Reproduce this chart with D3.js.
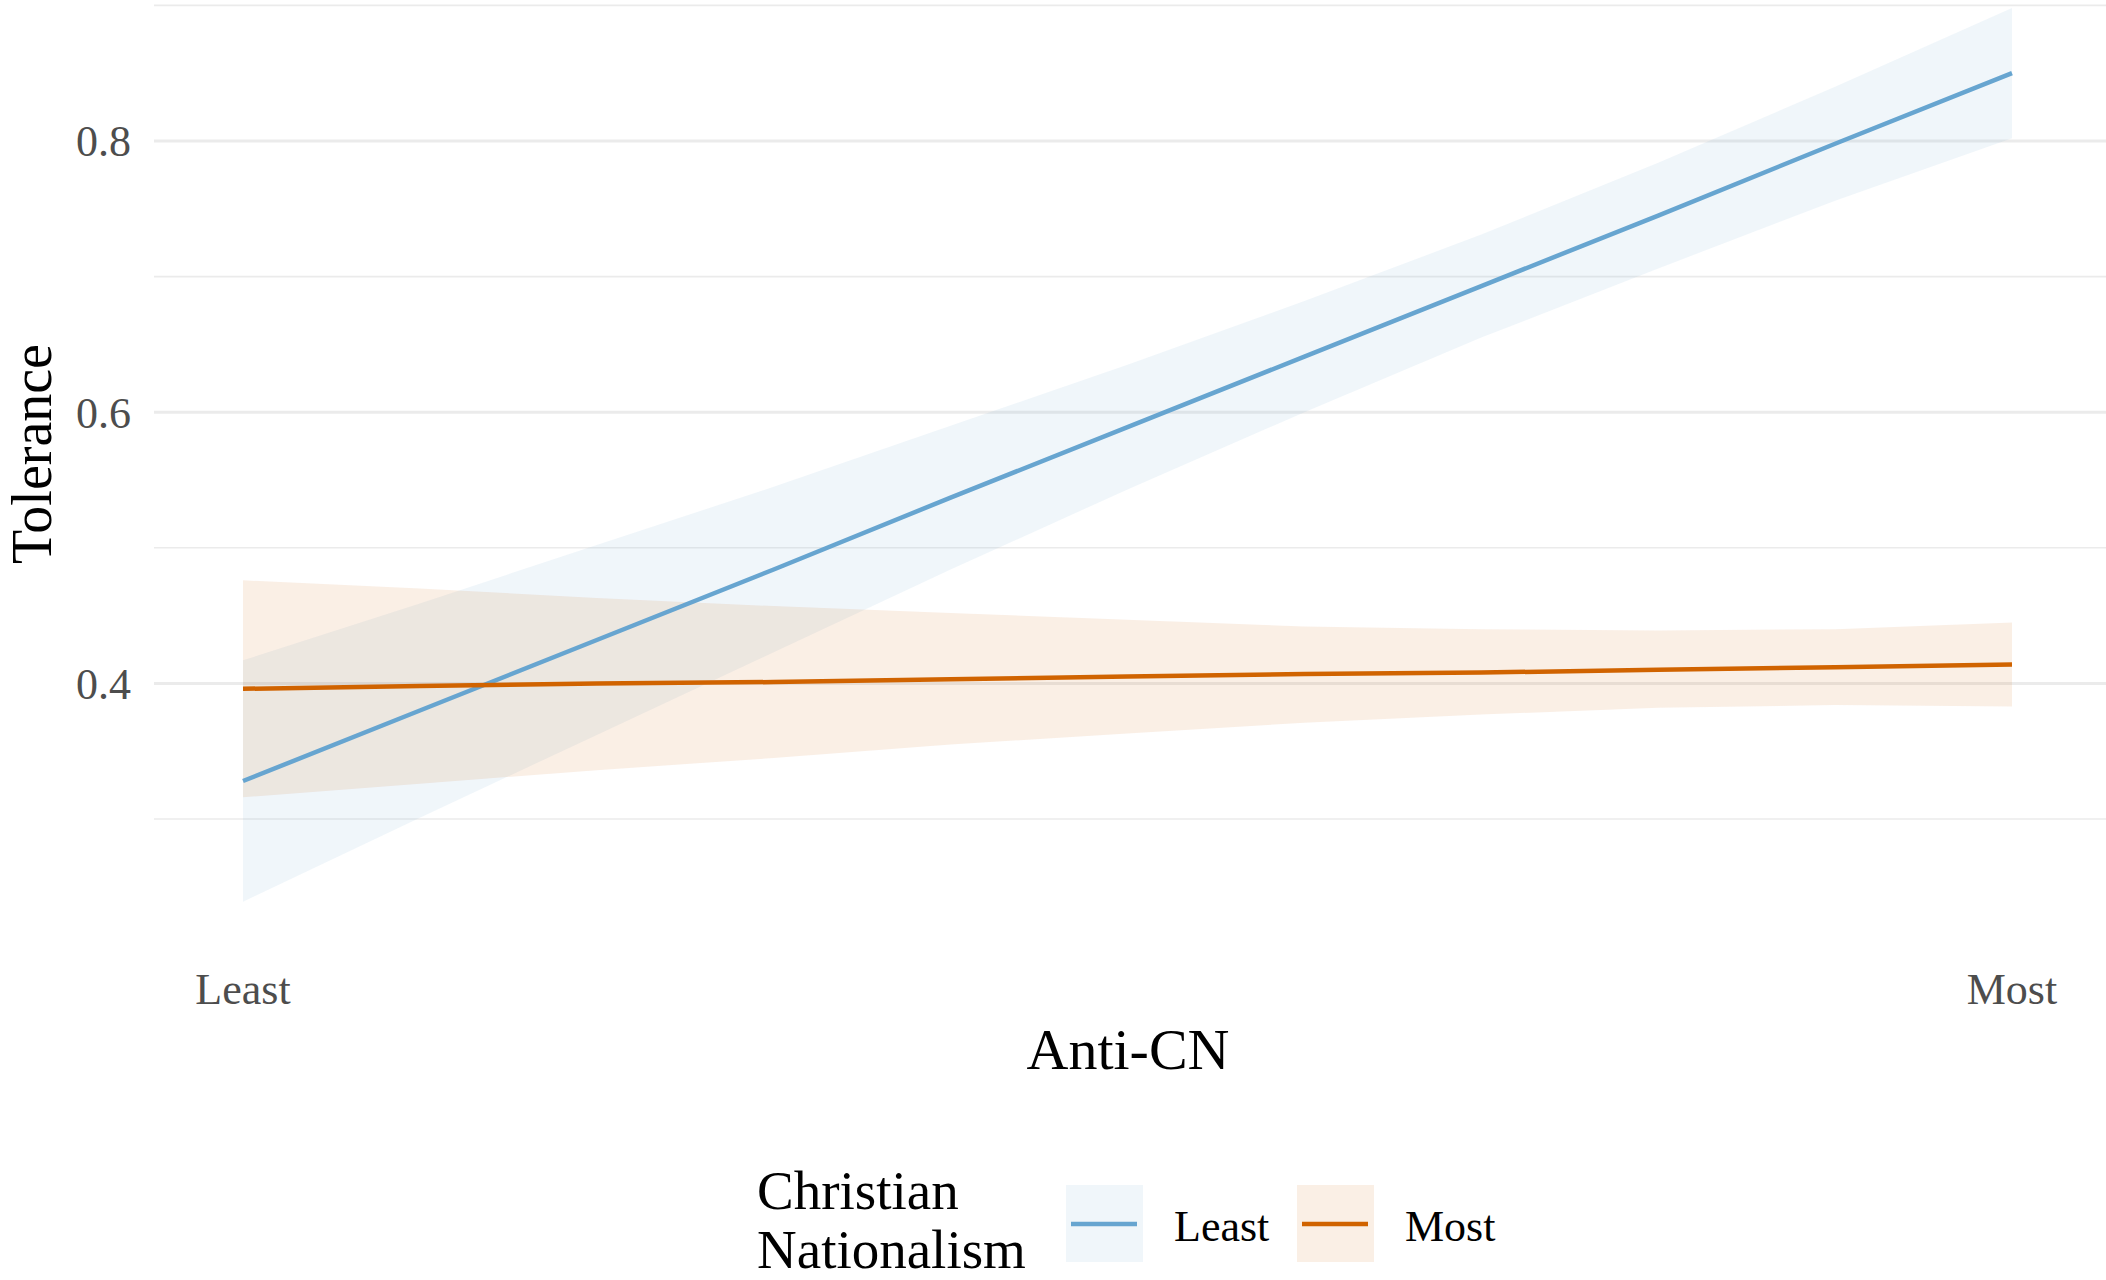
<!DOCTYPE html>
<html>
<head>
<meta charset="utf-8">
<script src="https://cdn.jsdelivr.net/npm/d3@7"></script>
<style>
  body { margin: 0; background: #fff; }
  text { font-family: "Liberation Serif", "DejaVu Serif", serif; }
</style>
</head>
<body>
<svg id="chart"></svg>
<script>
// anti-CN position, 0 = least, 1 = most
var xVals = [0, 0.1, 0.2, 0.3, 0.4, 0.5, 0.6, 0.7, 0.8, 0.9, 1.0];

// Christian nationalism: least
var leastFit   = [0.328, 0.380, 0.432, 0.484, 0.537, 0.589, 0.641, 0.693, 0.745, 0.798, 0.850];
var leastUpper = [0.417, 0.459, 0.502, 0.545, 0.590, 0.635, 0.682, 0.731, 0.784, 0.840, 0.898];
var leastLower = [0.239, 0.301, 0.362, 0.423, 0.484, 0.543, 0.600, 0.655, 0.706, 0.756, 0.802];

// Christian nationalism: most
var mostFit   = [0.396, 0.398, 0.400, 0.401, 0.403, 0.405, 0.407, 0.408, 0.410, 0.412, 0.414];
var mostUpper = [0.476, 0.470, 0.463, 0.457, 0.452, 0.447, 0.442, 0.440, 0.439, 0.440, 0.445];
var mostLower = [0.316, 0.326, 0.336, 0.345, 0.355, 0.363, 0.371, 0.377, 0.382, 0.384, 0.383];

var groups = ["Least", "Most"];
var xTickVals = [0, 1];
var xTickLabels = ["Least", "Most"];
var yMajor = [0.4, 0.6, 0.8];
var yMinor = [0.3, 0.5, 0.7, 0.9];

var width = 2106, height = 1280;
var colors = { "Least": "#67a5d0", "Most": "#d06300" };

var svg = d3.select("#chart")
    .attr("width", width)
    .attr("height", height);

var x = d3.scaleLinear().domain([0, 1]).range([243, 2012]);
var y = d3.scaleLinear().domain([0.3, 0.9]).range([819, 5.4]);

// build rows for each group
var series = [
  { key: "Least", rows: xVals.map(function(v, i) { return { x: v, fit: leastFit[i], lo: leastLower[i], hi: leastUpper[i] }; }) },
  { key: "Most",  rows: xVals.map(function(v, i) { return { x: v, fit: mostFit[i],  lo: mostLower[i],  hi: mostUpper[i] }; }) }
];

// gridlines
var grid = svg.append("g");
grid.selectAll(".minor")
    .data(yMinor)
    .enter()
    .append("line")
    .attr("x1", 154).attr("x2", width)
    .attr("y1", function(d) { return y(d); })
    .attr("y2", function(d) { return y(d); })
    .attr("stroke", "#ebebeb")
    .attr("stroke-width", 1.6);
grid.selectAll(".major")
    .data(yMajor)
    .enter()
    .append("line")
    .attr("x1", 154).attr("x2", width)
    .attr("y1", function(d) { return y(d); })
    .attr("y2", function(d) { return y(d); })
    .attr("stroke", "#ebebeb")
    .attr("stroke-width", 3);

// confidence ribbons
var area = d3.area()
    .x(function(d) { return x(d.x); })
    .y0(function(d) { return y(d.lo); })
    .y1(function(d) { return y(d.hi); });

svg.append("g").selectAll("path")
    .data(series)
    .enter()
    .append("path")
    .attr("d", function(d) { return area(d.rows); })
    .attr("fill", function(d) { return colors[d.key]; })
    .attr("fill-opacity", 0.1);

// fitted lines
var line = d3.line()
    .x(function(d) { return x(d.x); })
    .y(function(d) { return y(d.fit); });

svg.append("g").selectAll("path")
    .data(series)
    .enter()
    .append("path")
    .attr("d", function(d) { return line(d.rows); })
    .attr("fill", "none")
    .attr("stroke", function(d) { return colors[d.key]; })
    .attr("stroke-width", 4.5);

// y tick labels
svg.append("g").selectAll("text")
    .data(yMajor)
    .enter()
    .append("text")
    .attr("x", 131)
    .attr("y", function(d) { return y(d); })
    .attr("dy", "0.35em")
    .attr("text-anchor", "end")
    .attr("font-size", 44)
    .attr("fill", "#4d4d4d")
    .text(function(d) { return d3.format(".1f")(d); });

// x tick labels
svg.append("g").selectAll("text")
    .data(xTickVals)
    .enter()
    .append("text")
    .attr("x", function(d) { return x(d); })
    .attr("y", 1004)
    .attr("text-anchor", "middle")
    .attr("font-size", 44)
    .attr("fill", "#4d4d4d")
    .text(function(d, i) { return xTickLabels[i]; });

// axis titles
svg.append("text")
    .attr("x", 1128)
    .attr("y", 1069)
    .attr("text-anchor", "middle")
    .attr("font-size", 58)
    .attr("fill", "#000")
    .text("Anti-CN");

svg.append("text")
    .attr("transform", "translate(51,454) rotate(-90)")
    .attr("text-anchor", "middle")
    .attr("font-size", 56)
    .attr("fill", "#000")
    .text("Tolerance");

// legend
var legend = svg.append("g");
legend.append("text")
    .attr("x", 757).attr("y", 1209)
    .attr("font-size", 55)
    .text("Christian");
legend.append("text")
    .attr("x", 757).attr("y", 1268)
    .attr("font-size", 55)
    .text("Nationalism");

var keyX = [1066, 1297];
var key = legend.selectAll(".key")
    .data(groups)
    .enter()
    .append("g")
    .attr("transform", function(d, i) { return "translate(" + keyX[i] + ",1185)"; });

key.append("rect")
    .attr("width", 77).attr("height", 77)
    .attr("fill", function(d) { return colors[d]; })
    .attr("fill-opacity", 0.1);
key.append("line")
    .attr("x1", 5).attr("x2", 71)
    .attr("y1", 39).attr("y2", 39)
    .attr("stroke", function(d) { return colors[d]; })
    .attr("stroke-width", 4.5);
key.append("text")
    .attr("x", 108).attr("y", 56)
    .attr("font-size", 44)
    .text(function(d) { return d; });
</script>
</body>
</html>
